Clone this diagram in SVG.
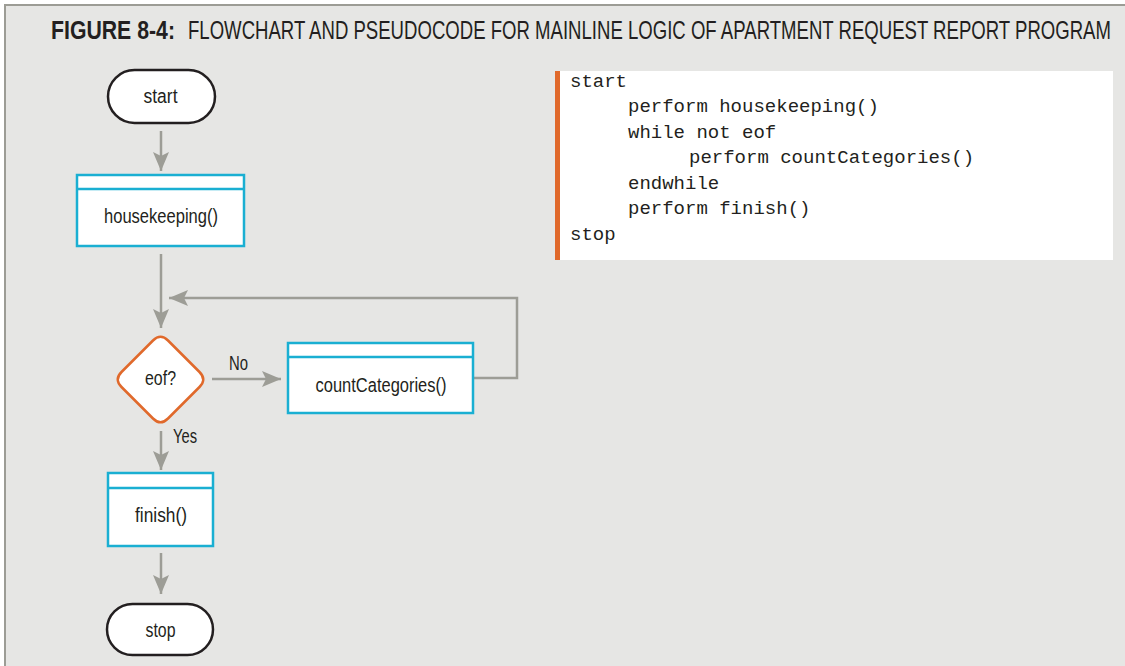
<svg xmlns="http://www.w3.org/2000/svg" width="1125" height="666" viewBox="0 0 1125 666">
<style>
.lbl{font-family:"Liberation Sans",Arial,sans-serif;font-size:20px;fill:#231f20;text-anchor:middle}
.code{font-family:"Liberation Mono","Courier New",monospace;font-size:19px;fill:#231f20}
.term{fill:#fff;stroke:#231f20;stroke-width:2.5}
.proc{fill:#fff;stroke:#1aafd2;stroke-width:2.5}
.dec{fill:#fff;stroke:#e0692b;stroke-width:2.5;stroke-linejoin:round}
.conn{fill:none;stroke:#9d9d96;stroke-width:2.5}
.title{font-family:"Liberation Sans",Arial,sans-serif;font-size:18.4px;fill:#231f20}
</style>
<defs>
<marker id="ah" markerUnits="userSpaceOnUse" markerWidth="20" markerHeight="16" viewBox="0 0 20 16" refX="19" refY="8" orient="auto">
<path d="M0,0 L19,8 L0,16 L4,8 Z" fill="#9d9d96"/>
</marker>
</defs>
<rect x="0" y="0" width="1125" height="666" fill="#fff"/>
<rect x="5" y="5" width="1120" height="661" fill="#e6e6e4"/>
<path d="M5,666 L5,5 L1125,5" fill="none" stroke="#9c9c95" stroke-width="2"/>
<g id="title" transform="translate(0,39) scale(1,1.36) translate(0,-39)">
<text class="title" x="51" y="39" font-weight="bold" textLength="124" lengthAdjust="spacingAndGlyphs">FIGURE 8-4:</text>
<text class="title" x="188" y="39" textLength="923" lengthAdjust="spacingAndGlyphs">FLOWCHART AND PSEUDOCODE FOR MAINLINE LOGIC OF APARTMENT REQUEST REPORT PROGRAM</text>
</g>
<g id="pseudocode">
<rect x="557" y="71" width="556" height="189" fill="#fff"/>
<rect x="555" y="71" width="5" height="189" fill="#e0692b"/>
<text class="code" x="570" y="87">start</text>
<text class="code" x="628" y="112">perform housekeeping()</text>
<text class="code" x="628" y="138">while not eof</text>
<text class="code" x="689" y="163">perform countCategories()</text>
<text class="code" x="628" y="189">endwhile</text>
<text class="code" x="628" y="214">perform finish()</text>
<text class="code" x="570" y="240">stop</text>
</g>
<g id="connectors">
<line class="conn" x1="161" y1="131" x2="161" y2="171" marker-end="url(#ah)"/>
<line class="conn" x1="161" y1="254" x2="161" y2="328" marker-end="url(#ah)"/>
<polyline class="conn" points="473,378 517,378 517,298 169,298" marker-end="url(#ah)"/>
<line class="conn" x1="212" y1="379" x2="281" y2="379" marker-end="url(#ah)"/>
<line class="conn" x1="161" y1="431" x2="161" y2="470" marker-end="url(#ah)"/>
<line class="conn" x1="161" y1="553" x2="161" y2="594" marker-end="url(#ah)"/>
<text class="lbl" x="238.5" y="370" textLength="19" lengthAdjust="spacingAndGlyphs">No</text>
<text class="lbl" x="185" y="443" textLength="24" lengthAdjust="spacingAndGlyphs">Yes</text>
</g>
<g id="start">
<rect class="term" x="108" y="70" width="107" height="53" rx="26.5"/>
<text class="lbl" x="160.5" y="103" textLength="34" lengthAdjust="spacingAndGlyphs">start</text>
</g>
<g id="housekeeping">
<rect class="proc" x="77" y="175" width="167" height="71"/>
<line class="proc" x1="77" y1="189" x2="244" y2="189"/>
<text class="lbl" x="161" y="223" textLength="114" lengthAdjust="spacingAndGlyphs">housekeeping()</text>
</g>
<g id="eof">
<path class="dec" d="M153,340.5 Q160.5,333 168,340.5 L199.5,372 Q207,379.5 199.5,387 L168,418.5 Q160.5,426 153,418.5 L121.5,387 Q114,379.5 121.5,372 Z"/>
<text class="lbl" x="160.5" y="385" textLength="31" lengthAdjust="spacingAndGlyphs">eof?</text>
</g>
<g id="countCategories">
<rect class="proc" x="288" y="343" width="185" height="70"/>
<line class="proc" x1="288" y1="357" x2="473" y2="357"/>
<text class="lbl" x="381" y="392" textLength="131" lengthAdjust="spacingAndGlyphs">countCategories()</text>
</g>
<g id="finish">
<rect class="proc" x="108" y="473" width="105" height="73"/>
<line class="proc" x1="108" y1="488" x2="213" y2="488"/>
<text class="lbl" x="161" y="522" textLength="52" lengthAdjust="spacingAndGlyphs">finish()</text>
</g>
<g id="stop">
<rect class="term" x="107" y="604" width="106" height="51" rx="25.5"/>
<text class="lbl" x="160.5" y="637" textLength="30" lengthAdjust="spacingAndGlyphs">stop</text>
</g>
</svg>
